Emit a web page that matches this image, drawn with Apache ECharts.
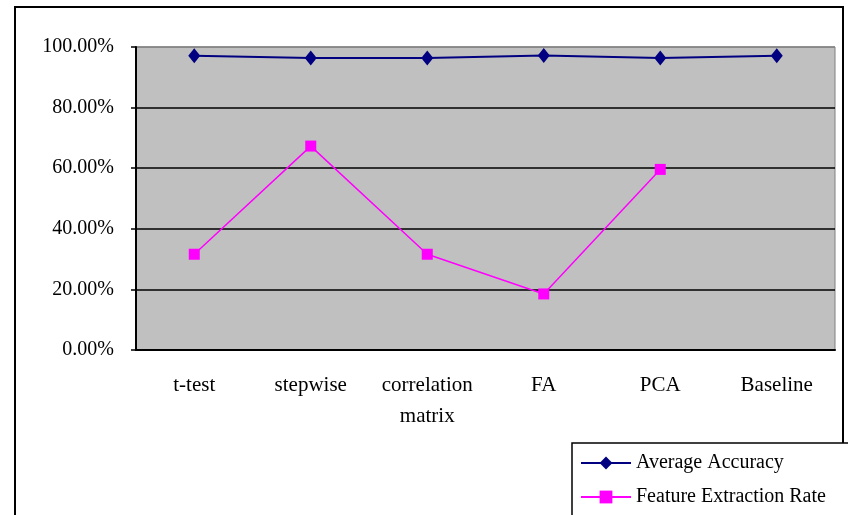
<!DOCTYPE html>
<html lang="en">
<head>
    <meta charset="UTF-8">
    <title>Accuracy chart</title>
    <script src="https://cdn.jsdelivr.net/npm/echarts@6/dist/echarts.min.js"></script>
    <style>
        html, body { margin: 0; padding: 0; background: #fff; }
        #main { width: 848px; height: 515px; }
    </style>
</head>
<body>
<div id="main"></div>
<script>
    var categories = ['t-test', 'stepwise', 'correlation\nmatrix', 'FA', 'PCA', 'Baseline'];
    var avgAccuracy = [0.971, 0.964, 0.964, 0.972, 0.964, 0.971];
    var extractionRate = [0.316, 0.673, 0.316, 0.185, 0.596, null];
    var yTicks = [0, 0.2, 0.4, 0.6, 0.8, 1.0];

    var font = "'Liberation Serif', 'Times New Roman', serif";
    var chart = echarts.init(document.getElementById('main'));

    chart.setOption({
        backgroundColor: '#fff',
        animation: false,
        textStyle: { fontFamily: font, color: '#000' },
        graphic: [{
            // outer chart border
            type: 'rect',
            shape: { x: 15, y: 7, width: 828, height: 530 },
            style: { fill: 'none', stroke: '#000', lineWidth: 2 },
            z: -1
        }, {
            // legend box, runs off the bottom/right edge like the original
            type: 'rect',
            shape: { x: 572, y: 443, width: 300, height: 100 },
            style: { fill: '#fff', stroke: '#000', lineWidth: 1.5 },
            z: 1
        }],
        grid: {
            left: 136, top: 47, width: 699, height: 303,
            show: true,
            backgroundColor: '#c0c0c0',
            borderColor: '#808080',
            borderWidth: 1
        },
        legend: {
            orient: 'vertical',
            left: 572, top: 443,
            padding: [10, 0, 0, 8],
            itemGap: 14,
            itemWidth: 50, itemHeight: 16,
            z: 5,
            textStyle: { fontFamily: font, fontSize: 20, color: '#000' },
            data: ['Average Accuracy', 'Feature Extraction Rate']
        },
        xAxis: {
            type: 'category',
            data: categories,
            boundaryGap: true,
            axisLine: { lineStyle: { color: '#000', width: 2 } },
            axisTick: { inside: true, length: 6, lineStyle: { color: '#000', width: 1.5 } },
            axisLabel: {
                margin: 20,
                fontFamily: font, fontSize: 21, lineHeight: 31, color: '#000',
                interval: 0
            }
        },
        yAxis: {
            type: 'value',
            min: yTicks[0], max: yTicks[yTicks.length - 1], interval: 0.2,
            axisLine: { show: true, lineStyle: { color: '#000', width: 2 } },
            axisTick: { show: true, length: 5, lineStyle: { color: '#000', width: 1.5 } },
            axisLabel: {
                margin: 22,
                fontFamily: font, fontSize: 20, color: '#000',
                formatter: function (v) { return (v * 100).toFixed(2) + '%'; }
            },
            splitLine: { lineStyle: { color: ['#000', '#000', '#000', '#000', '#000', '#808080'], width: 1.5 } }
        },
        series: [{
            name: 'Average Accuracy',
            type: 'line',
            data: avgAccuracy,
            symbol: 'diamond',
            symbolSize: [12, 15],
            itemStyle: { color: '#000080' },
            lineStyle: { color: '#000080', width: 2 }
        }, {
            name: 'Feature Extraction Rate',
            type: 'line',
            data: extractionRate,
            symbol: 'rect',
            symbolSize: 11,
            itemStyle: { color: '#ff00ff' },
            lineStyle: { color: '#ff00ff', width: 1.5 }
        }]
    });
</script>
</body>
</html>
